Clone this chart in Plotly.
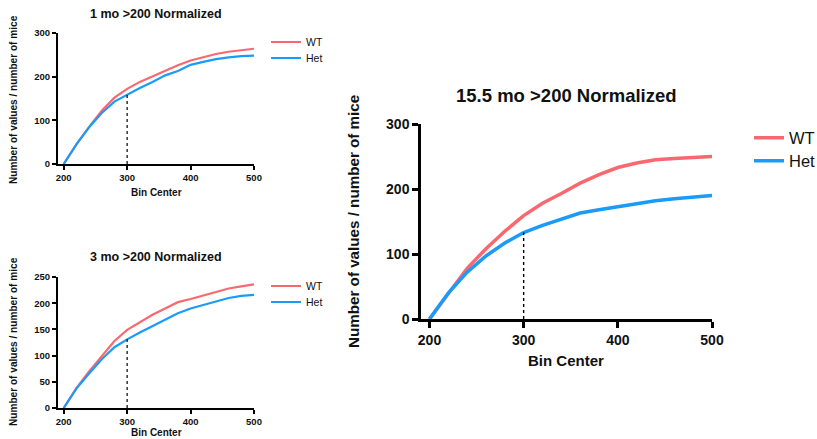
import plotly.graph_objects as go

# ---- data ----
bins = [200, 220, 240, 260, 280, 300, 320, 340, 360, 380, 400, 420, 440, 460, 480, 500]
wt_1mo = [0, 45, 85, 122, 152, 172, 188, 201, 214, 226, 237, 245, 252, 257, 261, 264]
het_1mo = [0, 45, 84, 117, 143, 159, 174, 188, 203, 213, 227, 234, 240, 244, 247, 248]
wt_3mo = [0, 38, 70, 100, 128, 149, 163, 178, 190, 202, 208, 215, 221, 228, 232, 236]
het_3mo = [0, 37, 66, 93, 116, 131, 144, 156, 168, 181, 190, 197, 204, 210, 214, 216]
wt_15mo = [0, 40, 78, 108, 135, 159, 178, 193, 209, 222, 233, 240, 245, 247, 249, 250]
het_15mo = [0, 40, 72, 97, 117, 133, 144, 154, 163, 168, 173, 178, 182, 185, 188, 190]
cut_bin = 300
panel_titles = ["1 mo >200 Normalized", "3 mo >200 Normalized", "15.5 mo >200 Normalized"]
series_names = ["WT", "Het"]
x_ticks = [200, 300, 400, 500]
y_ticks_1 = [0, 100, 200, 300]
y_ticks_2 = [0, 50, 100, 150, 200, 250]
y_ticks_3 = [0, 100, 200, 300]

WT_COLOR = "#f8696f"
HET_COLOR = "#1a9bf7"
FONT = "Liberation Sans"
W, H = 817, 439

fig = go.Figure()

panels = [
    dict(ax="", wt=wt_1mo, het=het_1mo, lw=2.2, dw=1.2, legs=("legend", "legend2")),
    dict(ax="2", wt=wt_3mo, het=het_3mo, lw=2.2, dw=1.2, legs=("legend3", "legend4")),
    dict(ax="3", wt=wt_15mo, het=het_15mo, lw=3.5, dw=1.4, legs=("legend5", "legend6")),
]

for p in panels:
    xa, ya = "x" + p["ax"], "y" + p["ax"]
    fig.add_trace(go.Scatter(x=bins, y=p["wt"], mode="lines", name=series_names[0],
                             line=dict(color=WT_COLOR, width=p["lw"]), xaxis=xa, yaxis=ya,
                             legend=p["legs"][0], cliponaxis=False))
    fig.add_trace(go.Scatter(x=bins, y=p["het"], mode="lines", name=series_names[1],
                             line=dict(color=HET_COLOR, width=p["lw"]), xaxis=xa, yaxis=ya,
                             legend=p["legs"][1], cliponaxis=False))
    i = bins.index(cut_bin)
    fig.add_trace(go.Scatter(x=[cut_bin, cut_bin], y=[0, p["het"][i]], mode="lines",
                             line=dict(color="black", width=p["dw"], dash="dot"),
                             xaxis=xa, yaxis=ya, showlegend=False, hoverinfo="skip"))


def px_dom_x(a, b):
    return [a / W, b / W]


def px_dom_y(top, bottom):
    return [1 - bottom / H, 1 - top / H]


def xaxis(dom, anchor, lw, fs, tl):
    return dict(domain=dom, anchor=anchor, range=[191, 500], tickvals=x_ticks,
                showline=True, linecolor="black", linewidth=lw, ticks="outside",
                ticklen=tl, tickwidth=lw, tickcolor="black", showgrid=False, zeroline=False,
                automargin=False,
                tickfont=dict(family=FONT, size=fs, color="#111", weight="bold"))


def yaxis(dom, anchor, lw, fs, tl, rng, tv):
    return dict(domain=dom, anchor=anchor, range=rng, tickvals=tv,
                showline=True, linecolor="black", linewidth=lw, ticks="outside",
                ticklen=tl, tickwidth=lw, tickcolor="black", showgrid=False, zeroline=False,
                automargin=False,
                tickfont=dict(family=FONT, size=fs, color="#111", weight="bold"))


def leg(x_text, y_center, fs):
    # plotly places legend text ~40px right of the legend's left edge
    return dict(x=(x_text - 40) / W, y=1 - y_center / H, xanchor="left", yanchor="middle",
                font=dict(family=FONT, size=fs, color="#111"), itemwidth=30,
                bgcolor="rgba(0,0,0,0)", borderwidth=0)


fig.update_layout(
    width=W, height=H, margin=dict(l=0, r=0, t=0, b=0, autoexpand=False),
    paper_bgcolor="white", plot_bgcolor="white",
    xaxis=xaxis(px_dom_x(58, 254), "y", 2, 9.5, 4),
    yaxis=yaxis(px_dom_y(33, 164), "x", 2, 9.5, 4, [0, 300], y_ticks_1),
    xaxis2=xaxis(px_dom_x(58, 254), "y2", 2, 9.5, 4),
    yaxis2=yaxis(px_dom_y(277, 408), "x2", 2, 9.5, 4, [0, 250], y_ticks_2),
    xaxis3=xaxis(px_dom_x(421, 712), "y3", 2.5, 14, 6),
    yaxis3=yaxis(px_dom_y(124, 319), "x3", 2.5, 14, 6, [0, 300], y_ticks_3),
    legend=leg(306, 42, 10.5),
    legend2=leg(306, 58, 10.5),
    legend3=leg(306, 286, 10.5),
    legend4=leg(306, 302, 10.5),
    legend5=leg(789, 138, 16.5),
    legend6=leg(789, 161, 16.5),
)

ann = []
# panel titles
for (cx, cy, fs), t in zip([(156, 14, 12.5), (156, 257, 12.5), (566, 95, 18.5)], panel_titles):
    ann.append(dict(text=t, x=cx / W, y=1 - cy / H, xref="paper", yref="paper",
                    xanchor="center", yanchor="middle", showarrow=False,
                    font=dict(family=FONT, size=fs, color="#111", weight="bold")))
# x titles
for cx, cy, fs in [(156, 192, 10), (156, 432, 10), (566, 360, 15)]:
    ann.append(dict(text="Bin Center", x=cx / W, y=1 - cy / H, xref="paper", yref="paper",
                    xanchor="center", yanchor="middle", showarrow=False,
                    font=dict(family=FONT, size=fs, color="#111", weight="bold")))
# y titles
for cx, cy, fs in [(13, 100, 10.1), (13, 342, 10.1), (353, 222, 15.2)]:
    ann.append(dict(text="Number of values / number of mice", x=cx / W, y=1 - cy / H,
                    xref="paper", yref="paper", xanchor="center", yanchor="middle",
                    textangle=-90, showarrow=False,
                    font=dict(family=FONT, size=fs, color="#111", weight="bold")))
fig.update_layout(annotations=ann)

fig.write_html("out.html")
